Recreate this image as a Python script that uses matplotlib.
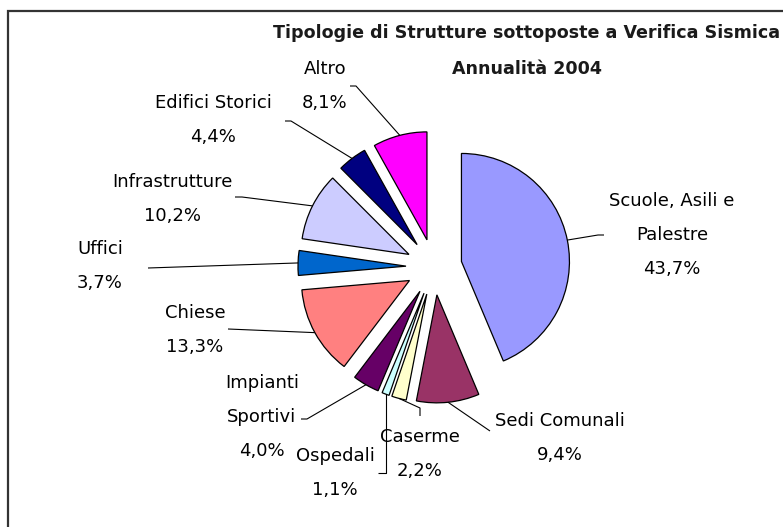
import numpy as np
import matplotlib.pyplot as plt
from matplotlib.patches import Rectangle

# data
categories = ["Scuole, Asili e\nPalestre", "Sedi Comunali", "Caserme", "Ospedali",
              "Impianti\nSportivi", "Chiese", "Uffici", "Infrastrutture",
              "Edifici Storici", "Altro"]
values = [43.7, 9.4, 2.2, 1.1, 4.0, 13.3, 3.7, 10.2, 4.4, 8.1]
pct_labels = ["43,7%", "9,4%", "2,2%", "1,1%", "4,0%", "13,3%", "3,7%", "10,2%", "4,4%", "8,1%"]
colors = ["#9999FF", "#993366", "#FFFFCC", "#CCFFFF", "#660066",
          "#FF8080", "#0066CC", "#CCCCFF", "#000080", "#FF00FF"]

W, H = 783, 527
# layout in pixel space (y measured from top)
label_pos = [(672, 235), (560, 438), (420, 454), (335, 473), (262, 417),
             (195, 330), (100, 266), (172, 199), (213, 120), (325, 86)]
# leader paths from label side (points before the wedge point)
leaders = [[(604, 235), (598, 235)],
           [(490, 431)],
           [(420, 416), (420, 408)],
           [(378, 473), "vert"],
           [(301, 419), (307, 419)],
           [(228, 329)],
           [(148, 268)],
           [(235, 197), (242, 197)],
           [(285, 121), (291, 121)],
           [(350, 86), (356, 86)]]

fig = plt.figure(figsize=(W / 100, H / 100), dpi=100)
ax = fig.add_axes([0, 0, 1, 1])

cx, cy, R, expl = 434, 267, 108, 28
wedges, _ = ax.pie(values, colors=colors, startangle=90, counterclock=False,
                   radius=R, center=(cx, H - cy), explode=[expl] * len(values),
                   wedgeprops=dict(edgecolor="black", linewidth=0.9), frame=True)
ax.set_xlim(0, W)
ax.set_ylim(0, H)
ax.set_axis_off()

def py(y):
    return H - y

for i, w in enumerate(wedges):
    tm = np.deg2rad(0.5 * (w.theta1 + w.theta2))
    wx = w.center[0] + w.r * np.cos(tm)
    wy = w.center[1] + w.r * np.sin(tm)
    pts = []
    for p in leaders[i]:
        if p == "vert":
            pts.append((wx, py(473)))
        else:
            pts.append((p[0], py(p[1])))
    pts.append((wx, wy))
    xs, ys = zip(*pts)
    ax.plot(xs, ys, color="black", linewidth=0.8, solid_capstyle="butt")

    lx, ly = label_pos[i]
    ax.text(lx, py(ly), categories[i] + "\n" + pct_labels[i], ha="center", va="center",
            fontsize=13, linespacing=2.15, color="black", family="DejaVu Sans")

ax.text(527, py(33), "Tipologie di Strutture sottoposte a Verifica Sismica",
        ha="center", va="center", fontsize=12.6, fontweight="bold", color="#1a1a1a")
ax.text(527, py(69), "Annualità 2004", ha="center", va="center",
        fontsize=12.6, fontweight="bold", color="#1a1a1a")

fig.patches.append(Rectangle((7.5, -20), 800, H - 10.5 + 20, transform=None,
                             fill=False, edgecolor="#333333", linewidth=1.6))

fig.savefig("out.png", dpi=100)
